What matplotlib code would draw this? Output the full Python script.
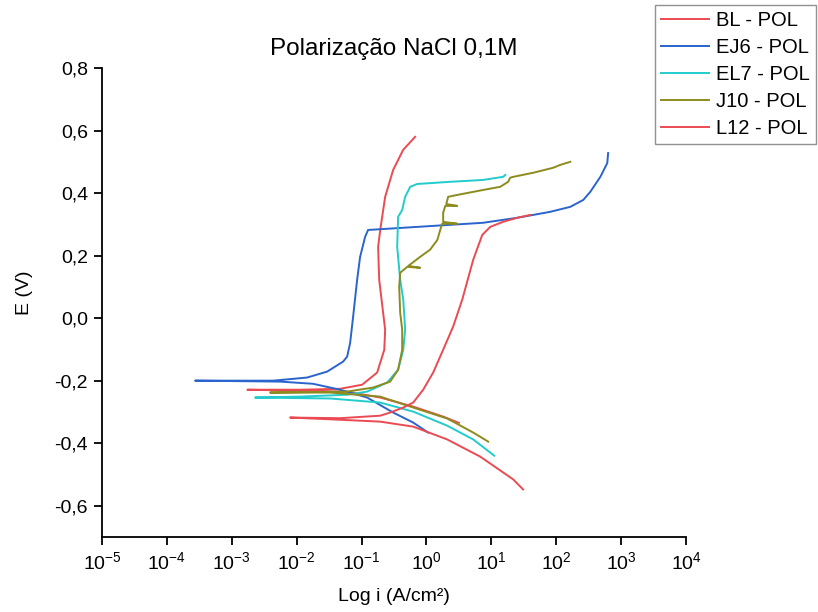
import numpy as np
import matplotlib
matplotlib.use("Agg")
import matplotlib.pyplot as plt
from matplotlib.ticker import FuncFormatter, FixedLocator, NullLocator

plt.rcParams['font.family'] = ['Liberation Sans', 'DejaVu Sans']
plt.rcParams['mathtext.fontset'] = 'custom'
plt.rcParams['mathtext.rm'] = 'Liberation Sans'
plt.rcParams['mathtext.it'] = 'Liberation Sans:italic'
plt.rcParams['mathtext.bf'] = 'Liberation Sans:bold'

# curvas de polarizacao: i (A/cm2) e E (V), do ramo catodico ao anodico
bl_i = [3.16, 1.81, 0.625, 0.194, 0.0603, 0.00174, 0.0113, 0.0468, 0.102, 0.174, 0.224, 0.231,
        0.215, 0.187, 0.180, 0.194, 0.231, 0.307, 0.437, 0.67]
bl_e = [-0.335, -0.315, -0.283, -0.254, -0.235, -0.229, -0.229, -0.226, -0.213, -0.174, -0.101, -0.037,
        0.017, 0.123, 0.228, 0.282, 0.388, 0.474, 0.538, 0.580]

ej6_i = [1.06, 0.625, 0.307, 0.122, 0.0468, 0.0179, 0.00556, 0.000272, 0.00434, 0.0145, 0.0295, 0.052,
         0.060, 0.0667, 0.0741, 0.0855, 0.095, 0.1135, 0.126, 1.27, 7.5, 25.1, 80.9, 165, 261, 335,
         479, 612, 631]
ej6_e = [-0.366, -0.334, -0.302, -0.254, -0.229, -0.210, -0.203, -0.200, -0.200, -0.190, -0.171, -0.139,
         -0.123, -0.079, 0.004, 0.123, 0.196, 0.260, 0.282, 0.295, 0.305, 0.321, 0.340, 0.356, 0.378, 0.404,
         0.452, 0.496, 0.528]

el7_i = [11.1, 5.26, 2.09, 0.625, 0.194, 0.0328, 0.00229, 0.0113, 0.060, 0.122, 0.248, 0.366, 0.439,
         0.470, 0.439, 0.394, 0.354, 0.366, 0.423, 0.470, 0.562, 0.72, 2.32, 7.5, 15.2, 16.4]
el7_e = [-0.440, -0.388, -0.344, -0.299, -0.270, -0.257, -0.254, -0.251, -0.245, -0.235, -0.206, -0.165, -0.101,
         -0.037, 0.059, 0.123, 0.228, 0.324, 0.346, 0.388, 0.420, 0.429, 0.436, 0.442, 0.452, 0.458]

j10_i = [8.95, 5.26, 2.09, 0.625, 0.194, 0.0328, 0.00389, 0.060, 0.151, 0.276, 0.366, 0.423, 0.423,
         0.394, 0.380, 0.394, 0.505, 0.80, 0.525, 0.80, 1.14, 1.47, 1.63, 1.75, 2.98, 1.81, 1.81, 1.95,
         2.98, 2.02, 2.16, 2.98, 7.5, 13.7, 18.2, 19.5, 21.8, 44.3, 89.9, 115, 165]
j10_e = [-0.395, -0.366, -0.321, -0.286, -0.251, -0.238, -0.238, -0.235, -0.222, -0.203, -0.165, -0.101, -0.037,
         0.017, 0.100, 0.145, 0.164, 0.161, 0.167, 0.196, 0.219, 0.250, 0.282, 0.302, 0.302, 0.308, 0.337, 0.359,
         0.359, 0.365, 0.388, 0.394, 0.410, 0.420, 0.436, 0.449, 0.452, 0.465, 0.481, 0.490, 0.500]

l12_i = [30.9, 21.8, 6.75, 2.09, 0.625, 0.194, 0.0468, 0.00794, 0.0468, 0.194, 0.276, 0.438, 0.625,
         0.891, 1.27, 1.81, 2.58, 3.56, 5.26, 7.24, 9.62, 15.2, 25.1, 39.8]
l12_e = [-0.548, -0.516, -0.443, -0.388, -0.347, -0.331, -0.325, -0.318, -0.320, -0.312, -0.302, -0.286, -0.270,
         -0.229, -0.174, -0.101, -0.027, 0.059, 0.187, 0.266, 0.292, 0.308, 0.321, 0.330]

labels = ['BL - POL', 'EJ6 - POL', 'EL7 - POL', 'J10 - POL', 'L12 - POL']
colors = ['#eb4a52', '#2a64cc', '#22cccc', '#8c8c1e', '#eb4a52']
series = [(bl_i, bl_e), (ej6_i, ej6_e), (el7_i, el7_e), (j10_i, j10_e), (l12_i, l12_e)]

fig = plt.figure(figsize=(8.18, 6.12), dpi=100)
ax = fig.add_axes([102 / 818, 1 - 537 / 612, 584 / 818, 469 / 612])

lines = []
for (xi, ye), c, lab in zip(series, colors, labels):
    ln, = ax.plot(xi, ye, color=c, lw=1.4, label=lab)
    lines.append(ln)

ax.set_xscale('log')
ax.set_xlim(1e-5, 1e4)
ax.set_ylim(-0.7, 0.8)
ax.xaxis.set_major_locator(FixedLocator([10.0 ** k for k in range(-5, 5)]))
ax.xaxis.set_minor_locator(NullLocator())
ax.xaxis.set_major_formatter(FuncFormatter(lambda v, p: r'$10^{%d}$' % round(np.log10(v))))
ax.set_yticks(np.arange(-0.6, 0.81, 0.2))
ax.yaxis.set_major_formatter(FuncFormatter(lambda v, p: ('%.1f' % v).replace('.', ',').replace('-0,0', '0,0')))

for s in ['top', 'right']:
    ax.spines[s].set_visible(False)
for s in ['left', 'bottom']:
    ax.spines[s].set_linewidth(1.3)
ax.tick_params(direction='out', length=6, width=1.3, labelsize=14, pad=4)

ax.set_title('Polarização NaCl 0,1M', fontsize=17.5, pad=9)
ax.set_xlabel('Log i (A/cm²)', fontsize=14, labelpad=11)
ax.set_ylabel('E (V)', fontsize=14)
ax.yaxis.set_label_coords(-0.118, 0.52)

leg = fig.legend(handles=lines, loc='upper left', bbox_to_anchor=(655 / 818, 1 - 5 / 612),
                 fontsize=14.5, frameon=True, fancybox=False, borderaxespad=0, borderpad=0.3,
                 handlelength=2.4, handletextpad=0.35, labelspacing=0.4)
leg.get_frame().set_edgecolor('#777777')
leg.get_frame().set_linewidth(1.0)

fig.savefig('out.png', dpi=100)
